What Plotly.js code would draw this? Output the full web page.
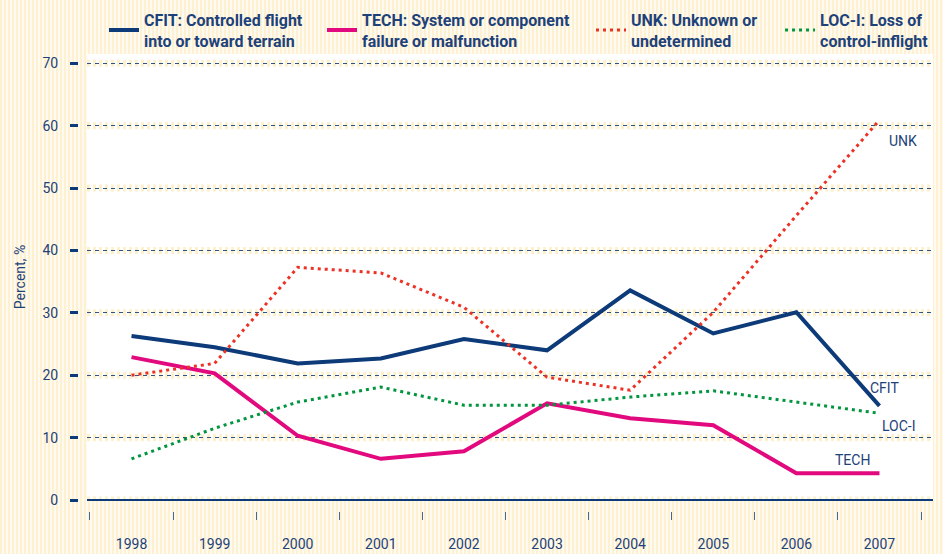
<!DOCTYPE html>
<html>
<head>
<meta charset="utf-8">
<script src="https://cdn.plot.ly/plotly-3.0.1.min.js"></script>
<style>
html,body{margin:0;padding:0;}
body{width:943px;height:554px;overflow:hidden;
background:repeating-linear-gradient(90deg,#fdf1d2 0px,#fdf1d2 2px,#fffaf0 2px,#fffaf0 4px);}
#chart{width:943px;height:554px;}
</style>
</head>
<body>
<div id="chart"></div>
<script>
const years = [1998,1999,2000,2001,2002,2003,2004,2005,2006,2007];
const cfit = [26.3,24.5,21.9,22.7,25.8,24.0,33.6,26.7,30.1,15.1];
const tech = [22.9,20.3,10.3,6.6,7.8,15.5,13.1,12.0,4.3,4.3];
const unk  = [20.0,21.9,37.3,36.4,30.9,19.7,17.6,30.1,45.6,60.9];
const loci = [6.6,11.5,15.7,18.1,15.2,15.2,16.5,17.5,15.7,13.9];
const yTicks = [0,10,20,30,40,50,60,70];
const seriesNames = [
  "CFIT: Controlled flight<br>into or toward terrain",
  "TECH: System or component<br>failure or malfunction",
  "UNK: Unknown or<br>undetermined",
  "LOC-I: Loss of<br>control-inflight"
];
const lineLabels = ["UNK","CFIT","LOC-I","TECH"];

const NAVY = "#0d3a78";
const TXT = "#1d4279";
const FONT = "Roboto, 'DejaVu Sans', sans-serif";

const boundaries = years.concat([years[years.length-1]+1]).map(v => v - 0.5);

const traces = [
  {x: years, y: cfit, name: seriesNames[0], legend: "legend", mode: "lines", line: {color: NAVY, width: 4}},
  {x: years, y: tech, name: seriesNames[1], legend: "legend2", mode: "lines", line: {color: "#e2097e", width: 4}},
  {x: years, y: unk,  name: seriesNames[2], legend: "legend3", mode: "lines", line: {color: "#ec3125", width: 3, dash: "3px,4px"}},
  {x: years, y: loci, name: seriesNames[3], legend: "legend4", mode: "lines", line: {color: "#00953e", width: 3, dash: "3px,4px"}},
  {x: [boundaries[0], boundaries[boundaries.length-1]], y: [0,0], xaxis: "x2", mode: "lines",
   line: {width: 0}, showlegend: false, hoverinfo: "skip"}
];

const shapes = yTicks.map(v => ({
  type: "line", xref: "x domain", yref: "y", x0: 0, x1: 1, y0: v, y1: v,
  layer: "below", line: {color: "#fdf0cc", width: 7, dash: "3px,3px"}
}));

const xr = [1997.464, 2007.644];

function legendAt(x) {
  return {
    orientation: "h", x: x, xanchor: "left", y: 1.11, yanchor: "top",
    font: {family: FONT, size: 16, color: TXT, weight: 700},
    bgcolor: "rgba(0,0,0,0)"
  };
}

const layout = {
  width: 943, height: 554,
  margin: {l: 78, r: 10, t: 54, b: 34, autoexpand: false},
  paper_bgcolor: "rgba(0,0,0,0)",
  plot_bgcolor: "#ffffff",
  font: {family: FONT, color: TXT, size: 14},
  showlegend: true,
  legend: legendAt(0.0304),
  legend2: legendAt(0.2854),
  legend3: legendAt(0.6000),
  legend4: legendAt(0.8211),
  xaxis: {
    domain: [0.0105, 1], range: xr, anchor: "free", position: 0,
    tickvals: years, ticktext: years.map(String), ticks: "",
    showgrid: false, zeroline: false, showline: false,
    tickfont: {family: FONT, size: 14, color: TXT}, ticklabelstandoff: 14
  },
  xaxis2: {
    domain: [0.0105, 1], range: xr, overlaying: "x", anchor: "free", position: 0,
    tickvals: boundaries, ticks: "inside", ticklen: 8, tickwidth: 1, tickcolor: "#4a6791",
    showticklabels: false, showgrid: false, zeroline: false, showline: false
  },
  yaxis: {
    domain: [0.0429, 1], range: [0, 71.5], anchor: "free", position: 0,
    tickvals: yTicks, ticks: "outside", ticklen: 8, tickwidth: 3, tickcolor: NAVY,
    showgrid: true, gridcolor: "#2f5287", gridwidth: 1, griddash: "4px,4px",
    zeroline: true, zerolinecolor: NAVY, zerolinewidth: 2.5,
    showline: false, ticklabelstandoff: 9,
    tickfont: {family: FONT, size: 14, color: TXT},
    title: {text: "Percent, %", font: {family: FONT, size: 14, color: TXT}, standoff: 12}
  },
  shapes: shapes,
  annotations: [
    {x: 2007.28, y: 57.5, text: lineLabels[0]},
    {x: 2007.06, y: 17.9, text: lineLabels[1]},
    {x: 2007.24, y: 11.85, text: lineLabels[2]},
    {x: 2006.68, y: 6.4, text: lineLabels[3]}
  ].map(a => Object.assign(a, {xref: "x", yref: "y", showarrow: false,
      font: {family: FONT, size: 14, color: TXT}}))
};

Plotly.newPlot("chart", traces, layout, {displayModeBar: false, staticPlot: true});
</script>
</body>
</html>
